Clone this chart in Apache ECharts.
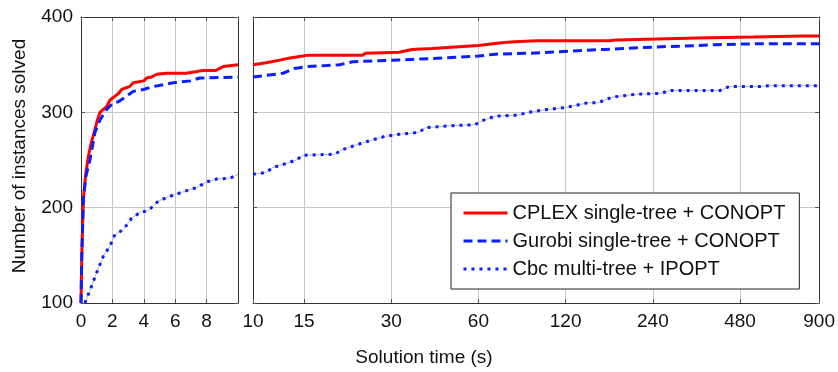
<!DOCTYPE html>
<html>
<head>
<meta charset="utf-8">
<script src="https://cdn.jsdelivr.net/npm/echarts@6/dist/echarts.min.js"></script>
<style>
  html, body { margin: 0; padding: 0; background: #fff; }
  #chart { width: 838px; height: 372px; }
</style>
</head>
<body>
<div id="chart"></div>
<script>
// solution time (s) and number of instances solved
const cplexTime = [0, 0.05, 0.15, 0.3, 0.47, 0.65, 0.89, 1.05, 1.21, 1.63, 1.85, 2.17, 2.4, 2.59, 2.9, 3.1, 3.33, 4.0, 4.18, 4.5, 4.82, 5.45, 6.7, 7.1, 7.8, 8.6, 9.05, 10,
  11.1, 12.5, 13.4, 14.9, 15.5, 23.9, 24.5, 31.9, 35.4, 41.6, 60, 72, 80, 96, 170, 180, 341, 532, 786, 900];
const cplexSolved = [100, 150, 209, 235, 254, 268, 282, 292, 300, 306, 313, 317, 320, 324, 326, 327, 331, 333, 336, 337, 340, 341, 341, 342, 344, 344, 348, 350,
  352, 355, 357, 359, 360, 360, 362, 363, 366, 367, 370, 373, 374, 375, 375, 376, 378, 379, 380, 380];

const gurobiTime = [0, 0.05, 0.15, 0.3, 0.57, 0.89, 1.21, 1.63, 2.06, 2.38, 2.91, 3.33, 3.97, 4.6, 5.24, 5.88, 6.96, 7.58, 10,
  12.7, 13.9, 15.3, 17.9, 19.9, 22.1, 31.9, 46, 60, 68.5, 91, 163, 190, 268, 341, 390, 560, 860, 900];
const gurobiSolved = [100, 150, 208, 232, 250, 279, 292, 303, 310, 311, 317, 322, 324, 327, 329, 331, 333, 336, 337,
  341, 346, 348, 349, 350, 353, 355, 357, 359, 361, 362, 366, 367, 369, 370, 371, 372, 372, 372];

const cbcTime = [0.25, 0.68, 1.0, 1.42, 1.85, 2.17, 2.7, 3.23, 3.76, 4.29, 4.93, 5.67, 6.41, 6.94, 7.37, 8.0, 8.64, 9.5, 10,
  11.1, 11.7, 13.2, 14.1, 14.9, 19.1, 20.4, 23.9, 25.8, 28.7, 31.9, 37.4, 39.4, 43.8, 48.6, 58.4, 61.6, 68.5, 82, 89,
  104, 120, 143, 155, 174, 211, 257, 275, 410, 440, 560, 600, 900];
const cbcSolved = [100, 118, 132, 149, 160, 172, 177, 189, 195, 197, 207, 212, 216, 219, 221, 227, 230, 231, 235,
  237, 242, 247, 250, 255, 256, 261, 268, 271, 275, 277, 279, 284, 285, 286, 287, 291, 296, 297, 300,
  303, 305, 310, 310, 316, 319, 320, 323, 323, 327, 327, 328, 328];

const linearTicks = [0, 2, 4, 6, 8, 10];
const logTicks = [10, 15, 30, 60, 120, 240, 480, 900];
const countTicks = [100, 200, 300, 400];

const names = ['CPLEX single-tree + CONOPT', 'Gurobi single-tree + CONOPT', 'Cbc multi-tree + IPOPT'];

function pairs(ts, vs, lo, hi) {
  const out = [];
  ts.forEach((t, i) => { if (t >= lo && t <= hi) out.push([t, vs[i]]); });
  return out;
}

const chart = echarts.init(document.getElementById('chart'), null, { renderer: 'canvas' });

const frame = { show: true, onZero: false, lineStyle: { color: '#333', width: 1 } };
const tickIn = { show: true, inside: true, length: 4, lineStyle: { color: '#555' } };
const grid = { show: true, lineStyle: { color: '#c8c8c8', width: 1 } };
const font = 'Liberation Sans';

function styles(i) {
  if (i === 0) return { color: '#ff0000', width: 3, type: 'solid' };
  if (i === 1) return { color: '#0a1eff', width: 3, type: [9, 5] };
  return { color: '#0a1eff', width: 3, type: [3, 5] };
}

const data = [[cplexTime, cplexSolved], [gurobiTime, gurobiSolved], [cbcTime, cbcSolved]];
const series = [];
[[0, linearTicks[0], linearTicks[5]], [2, logTicks[0], logTicks[7]]].forEach(([axis, lo, hi]) => {
  // thin grey path under the dotted series
  series.push({
    type: 'line', name: '_cbcpath', xAxisIndex: axis, yAxisIndex: axis,
    data: pairs(cbcTime, cbcSolved, lo, hi), symbol: 'none', silent: true,
    lineStyle: { color: '#b8b8b8', width: 1 }, z: 3
  });
  data.forEach(([ts, vs], i) => {
    const s = styles(i);
    series.push({
      type: 'line', name: names[i], xAxisIndex: axis, yAxisIndex: axis,
      data: pairs(ts, vs, lo, hi), symbol: 'none', clip: true,
      lineStyle: { color: s.color, width: s.width, type: s.type, cap: 'butt' },
      itemStyle: { color: s.color }, z: 4 + i
    });
  });
});

chart.setOption({
  animation: false,
  textStyle: { fontFamily: font },
  grid: [
    { left: 81, top: 17, width: 157, height: 286 },
    { left: 253, top: 17, width: 570, height: 286 }
  ],
  xAxis: [
    { type: 'value', gridIndex: 0, min: 0, max: 10, interval: 2, axisLine: frame, axisTick: tickIn,
      axisLabel: { color: '#111', fontSize: 19, margin: 9, showMaxLabel: false }, splitLine: grid },
    { type: 'value', gridIndex: 0, position: 'top', min: 0, max: 10, interval: 2, axisLine: frame,
      axisTick: tickIn, axisLabel: { show: false }, splitLine: { show: false } },
    { type: 'log', gridIndex: 1, min: 10, max: 900, axisLine: frame,
      axisTick: Object.assign({ customValues: logTicks }, tickIn),
      axisLabel: { color: '#111', fontSize: 19, margin: 9, customValues: logTicks }, splitLine: grid },
    { type: 'log', gridIndex: 1, position: 'top', min: 10, max: 900, axisLine: frame,
      axisTick: Object.assign({ customValues: logTicks }, tickIn), axisLabel: { show: false }, splitLine: { show: false } }
  ],
  yAxis: [
    { type: 'value', gridIndex: 0, min: countTicks[0], max: countTicks[3], interval: 100, axisLine: frame, axisTick: tickIn,
      axisLabel: { color: '#111', fontSize: 19, margin: 8 }, splitLine: grid },
    { type: 'value', gridIndex: 0, position: 'right', min: 100, max: 400, interval: 100, axisLine: frame,
      axisTick: tickIn, axisLabel: { show: false }, splitLine: { show: false } },
    { type: 'value', gridIndex: 1, min: 100, max: 400, interval: 100, axisLine: frame, axisTick: tickIn,
      axisLabel: { show: false }, splitLine: grid },
    { type: 'value', gridIndex: 1, position: 'right', min: 100, max: 400, interval: 100, axisLine: frame,
      axisTick: tickIn, axisLabel: { show: false }, splitLine: { show: false } }
  ],
  legend: {
    data: names, orient: 'vertical', left: 451, top: 193,
    itemWidth: 44, itemHeight: 14, itemGap: 8,
    padding: [10, 14, 10, 11],
    itemStyle: { opacity: 0 },
    lineStyle: { width: 3 },
    backgroundColor: '#fff', borderColor: '#222', borderWidth: 1, borderRadius: 0,
    textStyle: { fontSize: 20, color: '#111', fontFamily: font }
  },
  graphic: [
    { type: 'text', x: 20, y: 156, rotation: Math.PI / 2,
      style: { text: 'Number of instances solved', fontSize: 19, fontFamily: font, fill: '#111', align: 'center', verticalAlign: 'middle' } },
    { type: 'text', x: 424, y: 358,
      style: { text: 'Solution time (s)', fontSize: 19, fontFamily: font, fill: '#111', align: 'center', verticalAlign: 'middle' } }
  ],
  series: series
});
window.addEventListener('resize', () => chart.resize());
</script>
</body>
</html>
